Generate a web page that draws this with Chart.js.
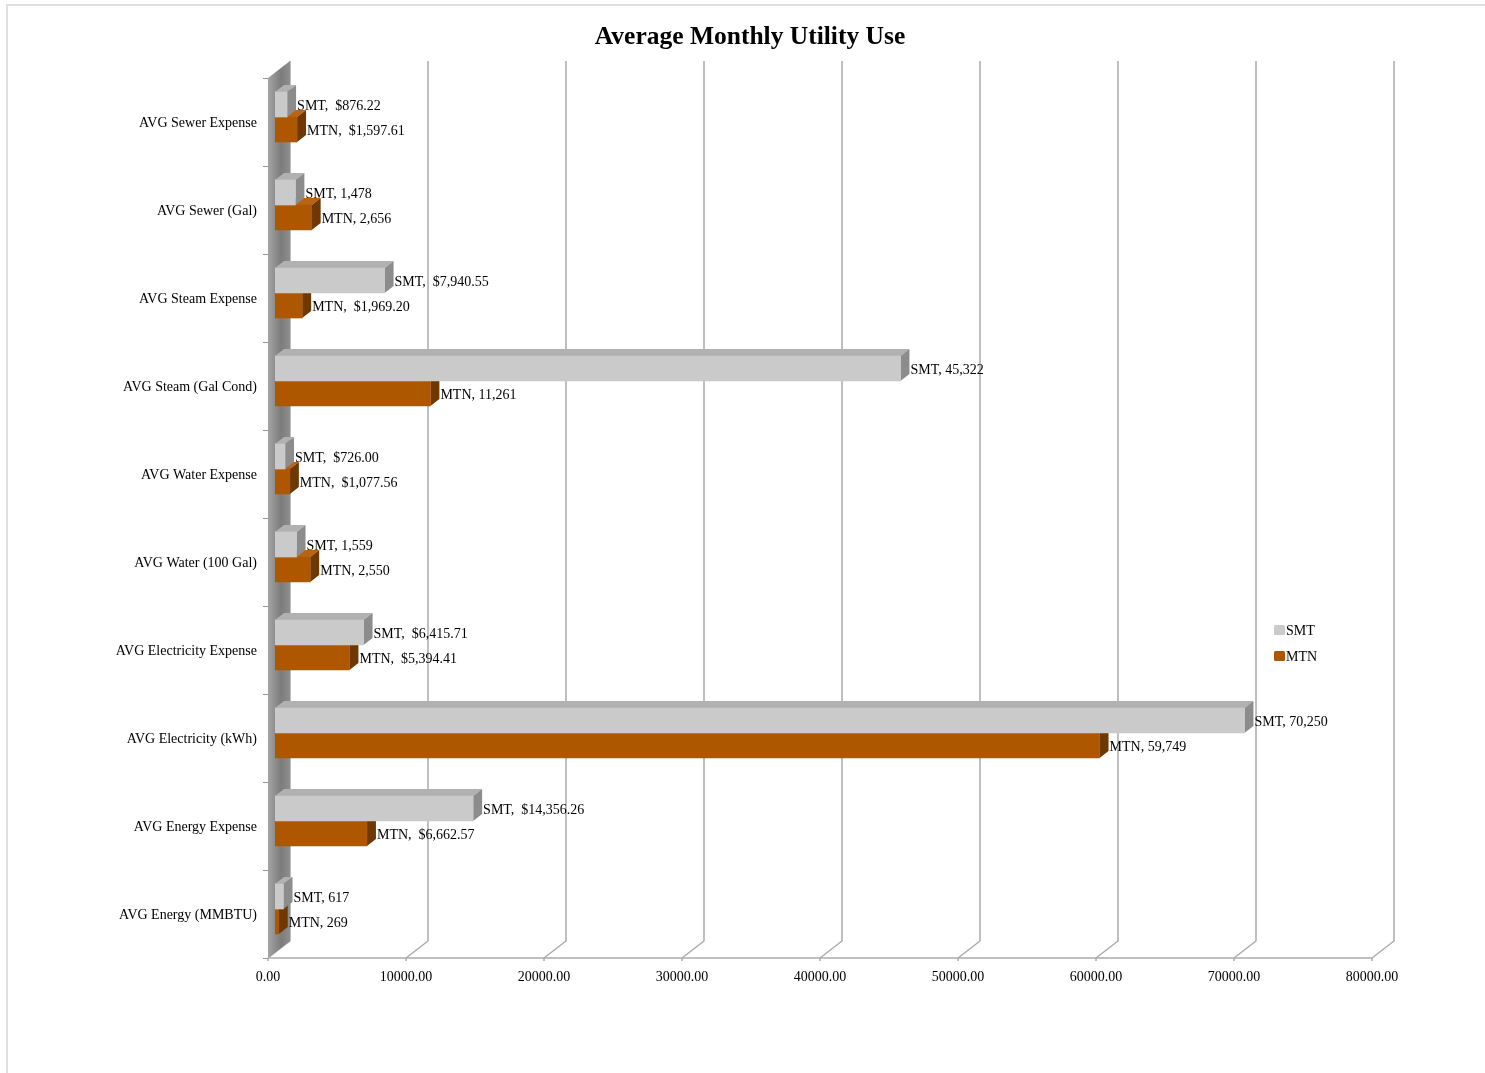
<!DOCTYPE html>
<html>
<head>
<meta charset="utf-8">
<title>Average Monthly Utility Use</title>
<script src="https://cdn.jsdelivr.net/npm/chart.js@4/dist/chart.umd.min.js"></script>
<style>
  html, body { margin: 0; padding: 0; background: #fff; overflow: hidden; }
  .frame {
    position: absolute; left: 6px; top: 4px; width: 1600px; height: 1200px;
    border-top: 2px solid #e0e0e0; border-left: 2px solid #e0e0e0;
  }
  #chart { position: absolute; left: 0; top: 0; }
</style>
</head>
<body>
<div class="frame"></div>
<canvas id="chart" width="1485" height="1073"></canvas>
<script>
const categories = [
  'AVG Sewer Expense', 'AVG Sewer (Gal)', 'AVG Steam Expense', 'AVG Steam (Gal Cond)',
  'AVG Water Expense', 'AVG Water (100 Gal)', 'AVG Electricity Expense',
  'AVG Electricity (kWh)', 'AVG Energy Expense', 'AVG Energy (MMBTU)'
]
const smtValues = [876.22, 1478, 7940.55, 45322, 726.00, 1559, 6415.71, 70250, 14356.26, 617]
const mtnValues = [1597.61, 2656, 1969.20, 11261, 1077.56, 2550, 5394.41, 59749, 6662.57, 269]
const xTicks = [0, 10000, 20000, 30000, 40000, 50000, 60000, 70000, 80000]
const chartTitle = 'Average Monthly Utility Use'

const SERIF = '"Liberation Serif", "Times New Roman", serif'

// colours per series: front, top, side
const faces = [
  { front: '#cacaca', top: '#b1b1b1', side: '#8c8c8c' },
  { front: '#ad5700', top: '#b96410', side: '#6f3800' }
]

// fake 3d geometry, offsets from the bar plane
const depth = { x: 9, y: -7 }
const front = { x: -7, y: 5 }
const wall = { x: 15, y: -12 }

const isExpense = categories.map(c => c.endsWith('Expense'))

function valueText (v, i) {
  if (isExpense[i]) {
    return ' $' + v.toLocaleString('en-US', { minimumFractionDigits: 2, maximumFractionDigits: 2 })
  }
  return v.toLocaleString('en-US')
}

const threeD = {
  id: 'threeD',
  beforeDatasetsDraw (chart) {
    const ctx = chart.ctx
    const x = chart.scales.x
    const y = chart.scales.y
    const x0 = x.getPixelForValue(0)
    ctx.save()

    // back gridlines with the slanted floor part
    ctx.strokeStyle = '#ababab'
    ctx.lineWidth = 1.5
    xTicks.forEach(v => {
      const px = x.getPixelForValue(v)
      ctx.beginPath()
      ctx.moveTo(px + front.x, y.bottom + front.y)
      ctx.lineTo(px + wall.x, y.bottom + wall.y)
      ctx.lineTo(px + wall.x, y.top + wall.y)
      ctx.stroke()
      ctx.beginPath()
      ctx.moveTo(px + front.x, y.bottom + front.y)
      ctx.lineTo(px + front.x, y.bottom + front.y + 3)
      ctx.stroke()
    })
    ctx.beginPath()
    ctx.moveTo(x0 + front.x, y.bottom + front.y)
    ctx.lineTo(x.getPixelForValue(xTicks[xTicks.length - 1]) + front.x, y.bottom + front.y)
    ctx.stroke()

    // left wall
    const g = ctx.createLinearGradient(x0 + front.x, 0, x0 + wall.x, 0)
    g.addColorStop(0, '#a4a4a4')
    g.addColorStop(0.6, '#7c7c7c')
    g.addColorStop(1, '#8e8e8e')
    ctx.fillStyle = g
    ctx.beginPath()
    ctx.moveTo(x0 + front.x, y.top + front.y)
    ctx.lineTo(x0 + wall.x, y.top + wall.y)
    ctx.lineTo(x0 + wall.x, y.bottom + wall.y)
    ctx.lineTo(x0 + front.x, y.bottom + front.y)
    ctx.closePath()
    ctx.fill()

    // category ticks on the front edge
    const band = (y.bottom - y.top) / categories.length
    ctx.strokeStyle = '#9a9a9a'
    ctx.lineWidth = 1
    for (let i = 0; i <= categories.length; i++) {
      const py = Math.round(y.top + i * band + front.y) + 0.5
      ctx.beginPath()
      ctx.moveTo(x0 + front.x - 5, py)
      ctx.lineTo(x0 + front.x, py)
      ctx.stroke()
    }

    // top and side faces, MTN first so SMT sits over it
    for (let d = chart.data.datasets.length - 1; d >= 0; d--) {
      const c = faces[d]
      chart.getDatasetMeta(d).data.forEach(bar => {
        const top = bar.y - bar.height / 2
        const bottom = bar.y + bar.height / 2
        ctx.fillStyle = c.top
        ctx.beginPath()
        ctx.moveTo(bar.base, top)
        ctx.lineTo(bar.base + depth.x, top + depth.y)
        ctx.lineTo(bar.x + depth.x, top + depth.y)
        ctx.lineTo(bar.x, top)
        ctx.closePath()
        ctx.fill()
        ctx.fillStyle = c.side
        ctx.beginPath()
        ctx.moveTo(bar.x, top)
        ctx.lineTo(bar.x + depth.x, top + depth.y)
        ctx.lineTo(bar.x + depth.x, bottom + depth.y)
        ctx.lineTo(bar.x, bottom)
        ctx.closePath()
        ctx.fill()
      })
    }
    ctx.restore()
  },
  afterDatasetsDraw (chart) {
    const ctx = chart.ctx
    ctx.save()

    // title, centred on the page rather than on the plot
    ctx.font = 'bold 25.5px ' + SERIF
    ctx.fillStyle = '#000'
    ctx.textAlign = 'center'
    ctx.textBaseline = 'middle'
    ctx.fillText(chartTitle, 750, 37.5)

    ctx.font = '14px ' + SERIF
    ctx.textAlign = 'left'
    chart.data.datasets.forEach((ds, d) => {
      chart.getDatasetMeta(d).data.forEach((bar, i) => {
        ctx.fillText(ds.label + ', ' + valueText(ds.data[i], i), bar.x + depth.x + 1, bar.y + 2)
      })
    })

    // legend
    const lx = 1274
    chart.data.datasets.forEach((ds, d) => {
      const ly = 625 + d * 26
      ctx.fillStyle = ds.backgroundColor
      ctx.beginPath()
      ctx.roundRect(lx, ly, 11, 10, 1.5)
      ctx.fill()
      ctx.fillStyle = '#000'
      ctx.fillText(ds.label, lx + 12, ly + 6)
    })
    ctx.restore()
  }
}

new Chart(document.getElementById('chart'), {
  type: 'bar',
  data: {
    labels: categories,
    datasets: [
      { label: 'SMT', data: smtValues, backgroundColor: faces[0].front },
      { label: 'MTN', data: mtnValues, backgroundColor: faces[1].front }
    ]
  },
  options: {
    indexAxis: 'y',
    responsive: false,
    animation: false,
    devicePixelRatio: 1,
    barThickness: 25,
    layout: { padding: { left: 0, right: 106, top: 73, bottom: 0 } },
    plugins: {
      legend: { display: false },
      tooltip: { enabled: false },
      title: { display: false }
    },
    scales: {
      x: {
        min: 0,
        max: 80000,
        afterBuildTicks (scale) { scale.ticks = xTicks.map(v => ({ value: v })) },
        afterFit (scale) { scale.height = 120 },
        grid: { display: false, drawTicks: false },
        border: { display: false },
        ticks: {
          color: '#000',
          font: { family: SERIF, size: 14 },
          padding: 16,
          labelOffset: front.x,
          maxRotation: 0,
          autoSkip: false,
          callback: v => Number(v).toFixed(2)
        }
      },
      y: {
        afterFit (scale) { scale.width = 275 },
        grid: { display: false, drawTicks: false },
        border: { display: false },
        ticks: {
          color: '#000',
          font: { family: SERIF, size: 14 },
          padding: 18,
          labelOffset: 6
        }
      }
    }
  },
  plugins: [threeD]
})
</script>
</body>
</html>
